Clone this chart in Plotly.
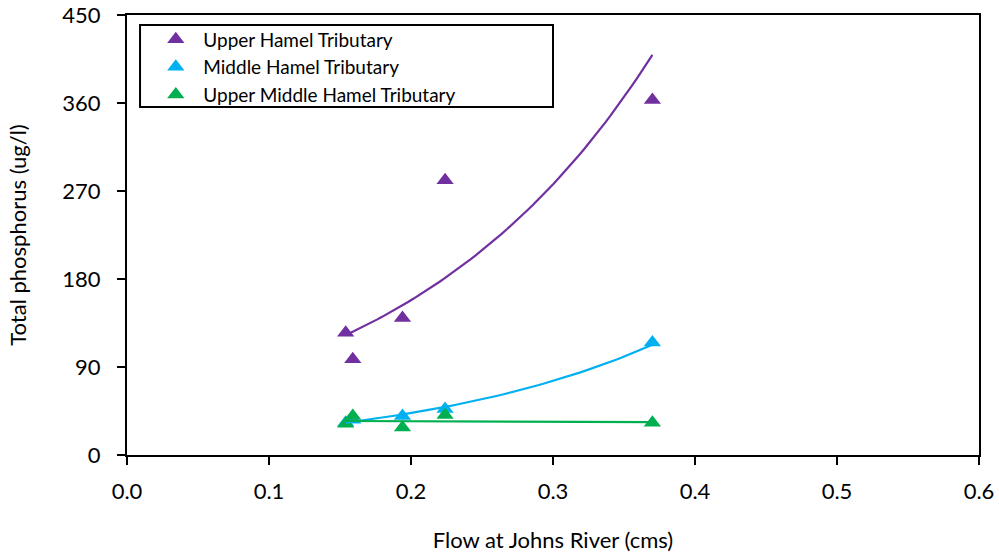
import numpy as np
import plotly.graph_objects as go

# flow at Johns River (cms) and total phosphorus (ug/l)
upper_x = [0.154, 0.159, 0.194, 0.224, 0.370]
upper_y = [125, 98, 140, 281, 363]

middle_x = [0.154, 0.159, 0.194, 0.224, 0.370]
middle_y = [33, 36, 40, 47, 115]

upmid_x = [0.154, 0.159, 0.194, 0.224, 0.370]
upmid_y = [32, 40, 28, 41, 33]

names = ["Upper Hamel Tributary", "Middle Hamel Tributary", "Upper Middle Hamel Tributary"]
colors = ["#7030A0", "#00B0F0", "#00B050"]

fig = go.Figure()

for name, col, xs, ys in zip(names, colors, [upper_x, middle_x, upmid_x], [upper_y, middle_y, upmid_y]):
    fig.add_trace(go.Scatter(x=xs, y=ys, mode="markers", name=name,
                             marker=dict(symbol="triangle-up", size=15, color=col)))

# exponential trendlines (excel style: fit ln(y) against x)
for col, xs, ys in zip(colors, [upper_x, middle_x, upmid_x], [upper_y, middle_y, upmid_y]):
    b, lna = np.polyfit(xs, np.log(ys), 1)
    xx = np.linspace(min(xs), max(xs), 60)
    fig.add_trace(go.Scatter(x=xx, y=np.exp(lna + b * xx), mode="lines", showlegend=False,
                             line=dict(color=col, width=2.2), hoverinfo="skip"))

axis_common = dict(showline=True, linecolor="black", linewidth=2, mirror=True,
                   ticks="outside", ticklen=8, tickwidth=2, tickcolor="black",
                   showgrid=False, zeroline=False, automargin=False,
                   tickfont=dict(size=22, color="black"))

fig.update_xaxes(range=[0, 0.6], dtick=0.1, tickformat=".1f", ticklabelstandoff=8,
                 title=dict(text="Flow at Johns River (cms)", font=dict(size=22, color="black"), standoff=29),
                 **axis_common)
fig.update_yaxes(range=[0, 450], dtick=90, ticklabelstandoff=12,
                 title=dict(text="Total phosphorus (ug/l)", font=dict(size=22, color="black"), standoff=30),
                 **axis_common)

# legend frame drawn as a box
fig.add_shape(type="rect", xref="paper", yref="paper", x0=0.0153, x1=0.5, y0=0.791, y1=0.977,
              line=dict(color="black", width=2), fillcolor="white", layer="below")

fig.update_layout(
    width=999, height=556,
    margin=dict(l=127, r=20, t=15, b=101),
    plot_bgcolor="white", paper_bgcolor="white",
    font=dict(family="Lato, Open Sans, sans-serif", color="black"),
    legend=dict(x=0.025, y=0.988, xanchor="left", yanchor="top",
                borderwidth=0, bgcolor="rgba(0,0,0,0)",
                font=dict(size=19), itemwidth=45, tracegroupgap=0),
)

fig.write_html("out.html", config={"displayModeBar": False},
               post_script="document.body.style.margin='0';document.body.style.overflow='hidden';")
